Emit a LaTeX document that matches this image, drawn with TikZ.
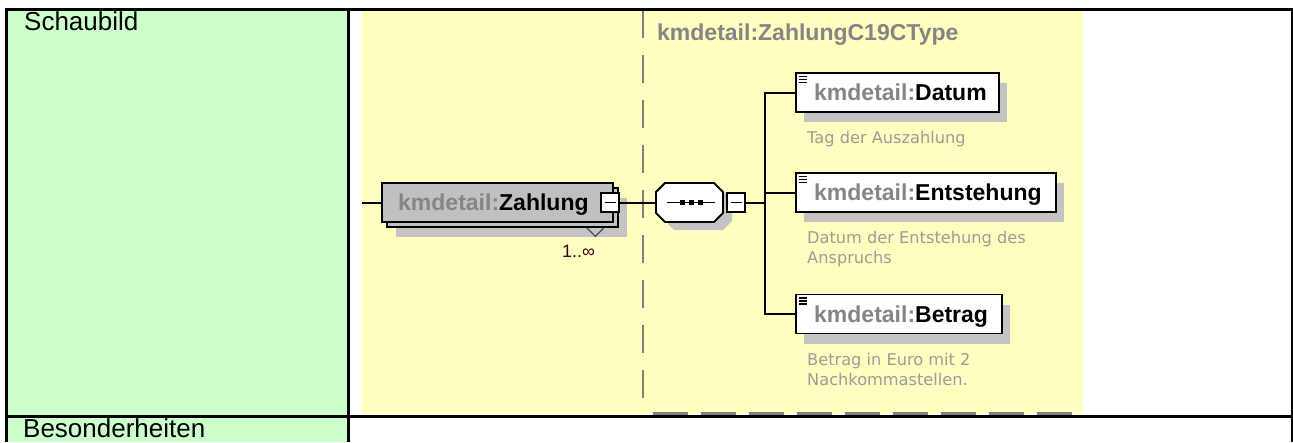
\documentclass[tikz,border=0pt]{standalone}
\usepackage{fontspec}
\setmainfont{Liberation Sans}
\newfontfamily\descfont{DejaVu Sans}
\usetikzlibrary{shadows,calc}

\definecolor{greenbg}{HTML}{CCFFCC}
\definecolor{yellowbg}{HTML}{FFFFC0}
\definecolor{shadowgray}{HTML}{C4C4C4}
\definecolor{boxgray}{HTML}{C0C0C0}
\definecolor{prefixgray}{HTML}{858585}
\definecolor{descgray}{HTML}{9C9C9C}
\definecolor{occcolor}{HTML}{400020}

\newcommand{\kmlabel}[1]{\textcolor{prefixgray}{kmdetail:}#1}

\tikzset{
  every node/.style={inner sep=0pt},
  tableline/.style={line width=3pt},
  conn/.style={line width=2pt},
  labelfont/.style={font=\fontsize{23}{27}\selectfont\bfseries},
  descnode/.style={anchor=north west, align=left, text=descgray,
    font=\descfont\fontsize{16.2}{20}\selectfont},
  zahlbox/.style={draw, line width=1.8pt, fill=boxgray, minimum width=231pt,
    minimum height=39pt, anchor=west},
  elembox/.style={draw, line width=1.8pt, fill=white, minimum height=39pt, anchor=west,
    drop shadow={shadow xshift=8pt, shadow yshift=-10pt, opacity=1, fill=shadowgray},
    path picture={\foreach \d in {3.5,6.5,9.5}
      \draw[line width=1.2pt] ([xshift=3pt,yshift=-\d pt]path picture bounding box.north west) -- ++(8,0);}},
  minusbox/.style={draw, line width=1.5pt, fill=white, minimum width=18pt, minimum height=19pt,
    path picture={\draw[line width=1.6pt] ([xshift=3.5pt]path picture bounding box.west)
      -- ([xshift=-3.5pt]path picture bounding box.east);}}
}

\begin{document}
\begin{tikzpicture}[x=1pt, y=-1pt]
\useasboundingbox (0,0) rectangle (1293,442);

% table cells
\fill[greenbg] (8,11) rectangle (347,442);
\fill[yellowbg] (362,11) rectangle (1083,414);

% type box border
\draw[gray, line width=1.8pt, dash pattern=on 28pt off 17pt] (643,10) -- (643,412);
\draw[gray, line width=3pt, dash pattern=on 35pt off 13pt] (653,413.5) -- (1075,413.5);

\draw[tableline] (5,9.5) -- (1293,9.5);
\draw[tableline] (6.5,8) -- (6.5,442);
\draw[tableline] (348.5,8) -- (348.5,442);
\draw[line width=2.5pt] (1292,8) -- (1292,442);
\draw[tableline] (5,416.5) -- (1293,416.5);

\node[anchor=base west, font=\fontsize{26}{30}\selectfont] (schau) at (24,30) {Schaubild};
\node[anchor=base west, font=\fontsize{26}{30}\selectfont] (beson) at (23,437) {Besonderheiten};

\node[anchor=base west, labelfont, text=prefixgray] (tname) at (657,40) {kmdetail:ZahlungC19CType};

% element Zahlung
\node[zahlbox, drop shadow={shadow xshift=9pt, shadow yshift=-10pt, opacity=1, fill=shadowgray}]
  (zahlback) at (386,207.5) {};
\node[zahlbox] (zahl) at (381,202.5) {};
\node[anchor=base west, labelfont] (zahltxt) at ([xshift=17pt,yshift=-8pt]zahl.west) {\kmlabel{Zahlung}};
\node[minusbox] (zminus) at (610,202.5) {};
\draw[line width=1.2pt, black!70] ([xshift=-32pt]zahlback.south east) -- ++(8.5,8.5) -- ++(8.5,-8.5);
\node[anchor=base west, text=occcolor, font=\fontsize{18}{20}\selectfont] (occ) at (562,257) {1..∞};

% sequence
\node[minimum width=67pt, minimum height=39pt] (seq) at (689.5,202.5) {};
\begin{scope}[shift={($(seq.center)+(9,8)$)}]
  \fill[shadowgray] (-24.5,-19.5) -- (24.5,-19.5) -- (33.5,-10.5) -- (33.5,10.5) -- (24.5,19.5)
    -- (-24.5,19.5) -- (-33.5,10.5) -- (-33.5,-10.5) -- cycle;
\end{scope}
\begin{scope}[shift={(seq.center)}]
  \draw[line width=1.8pt, fill=white] (-24.5,-19.5) -- (24.5,-19.5) -- (33.5,-10.5) -- (33.5,10.5)
    -- (24.5,19.5) -- (-24.5,19.5) -- (-33.5,10.5) -- (-33.5,-10.5) -- cycle;
\end{scope}
\draw[line width=1.6pt] ([xshift=-22.5pt]seq.center) -- ([xshift=25.5pt]seq.center);
\foreach \dx in {-7,2,11}
  \fill ([xshift=\dx pt]seq.center) +(-2.8,-2.8) rectangle +(2.8,2.8);
\node[minusbox] (sminus) at (736,202.5) {};

% child elements
\node[elembox, minimum width=203pt] (datum) at (795,92.5) {};
\node[elembox, minimum width=260pt] (entst) at (795,192.5) {};
\node[elembox, minimum width=206pt] (betrag) at (795,314) {};
\node[anchor=base west, labelfont] (datumtxt) at ([xshift=19pt,yshift=-8pt]datum.west) {\kmlabel{Datum}};
\node[anchor=base west, labelfont] (entsttxt) at ([xshift=19pt,yshift=-8pt]entst.west) {\kmlabel{Entstehung}};
\node[anchor=base west, labelfont] (betragtxt) at ([xshift=19pt,yshift=-8pt]betrag.west) {\kmlabel{Betrag}};

\node[descnode] (datumdesc) at (807,131) {Tag der Auszahlung};
\node[descnode] (entstdesc) at (807,231) {Datum der Entstehung des\\Anspruchs};
\node[descnode] (betragdesc) at (807,353) {Betrag in Euro mit 2\\Nachkommastellen.};

% connectors
\coordinate (zin) at (362,202.5);
\coordinate (fork) at (765,202.5);
\draw[conn] (zin) -- (zahl.west);
\draw[conn] (zminus.east) -- (seq.west);
\draw[conn] (sminus.east) -- (fork);
\draw[conn] (datum.west) -| (fork) |- (betrag.west);
\draw[conn] (fork |- entst.west) -- (entst.west);
\end{tikzpicture}
\end{document}
